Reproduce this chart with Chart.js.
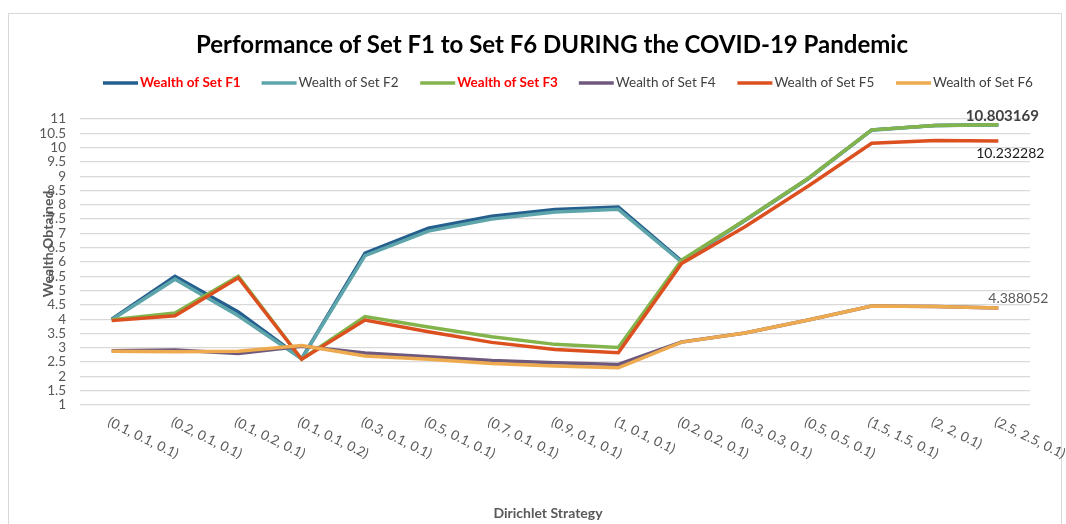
<!DOCTYPE html>
<html>
<head>
<meta charset="utf-8">
<script src="https://cdn.jsdelivr.net/npm/chart.js@4.4.0/dist/chart.umd.min.js"></script>
<style>
  html, body { margin: 0; padding: 0; background: #fff; }
  #wrap { position: relative; width: 1066px; height: 524px; }
</style>
</head>
<body>
<div id="wrap"><canvas id="wealthChart"></canvas></div>
<script>
// Dirichlet strategies (x categories)
const strategies = [
    '(0.1, 0.1, 0.1)', '(0.2, 0.1, 0.1)', '(0.1, 0.2, 0.1)', '(0.1, 0.1, 0.2)',
    '(0.3, 0.1, 0.1)', '(0.5, 0.1, 0.1)', '(0.7, 0.1, 0.1)', '(0.9, 0.1, 0.1)',
    '(1, 0.1, 0.1)', '(0.2, 0.2, 0.1)', '(0.3, 0.3, 0.1)', '(0.5, 0.5, 0.1)',
    '(1.5, 1.5, 0.1)', '(2, 2, 0.1)', '(2.5, 2.5, 0.1)'
];

// Wealth per set
const wealthF1 = [4.0, 5.5, 4.25, 2.62, 6.31, 7.18, 7.6, 7.84, 7.92, 6.03, 7.46, 8.92, 10.62, 10.77, 10.80];
const wealthF2 = [3.98, 5.4, 4.12, 2.62, 6.22, 7.08, 7.5, 7.75, 7.84, 6.0, 7.45, 8.91, 10.61, 10.77, 10.79];
const wealthF3 = [3.98, 4.22, 5.5, 2.6, 4.09, 3.73, 3.39, 3.12, 3.01, 6.07, 7.47, 8.93, 10.62, 10.77, 10.803169];
const wealthF4 = [2.9, 2.92, 2.8, 3.05, 2.82, 2.69, 2.56, 2.48, 2.42, 3.2, 3.52, 3.97, 4.46, 4.44, 4.39];
const wealthF5 = [3.95, 4.12, 5.45, 2.6, 3.97, 3.56, 3.19, 2.94, 2.83, 5.95, 7.23, 8.66, 10.15, 10.25, 10.232282];
const wealthF6 = [2.88, 2.86, 2.88, 3.08, 2.71, 2.6, 2.45, 2.36, 2.3, 3.2, 3.52, 3.97, 4.46, 4.44, 4.388052];

const seriesNames = ['Wealth of Set F1', 'Wealth of Set F2', 'Wealth of Set F3',
                     'Wealth of Set F4', 'Wealth of Set F5', 'Wealth of Set F6'];
const seriesColors = ['#245f8e', '#5ea5ab', '#83b44c', '#6e587c', '#dc5020', '#eeaa4e'];
const highlighted = [true, false, true, false, false, false]; // red bold legend entries

const FONT = 'Lato, "Liberation Sans", sans-serif';

// Excel style legend: equal slots, some labels bold red
const legendPlugin = {
    id: 'excelLegend',
    afterDraw(chart) {
        const ctx = chart.ctx;
        ctx.save();
        ctx.textBaseline = 'middle';
        ctx.textAlign = 'left';
        const y = 83;
        seriesNames.forEach((name, i) => {
            const x0 = 103 + i * 158.6;
            ctx.strokeStyle = seriesColors[i];
            ctx.lineWidth = 3.5;
            ctx.beginPath();
            ctx.moveTo(x0, y);
            ctx.lineTo(x0 + 35, y);
            ctx.stroke();
            ctx.font = (highlighted[i] ? 'bold ' : '') + '13.5px ' + FONT;
            ctx.fillStyle = highlighted[i] ? '#ff0000' : '#404040';
            ctx.fillText(name, x0 + 37, y);
        });
        ctx.restore();
    }
};

// title, frame, axis titles, slanted category labels, end-point labels
const decorPlugin = {
    id: 'decor',
    beforeDraw(chart) {
        const ctx = chart.ctx;
        ctx.save();
        ctx.fillStyle = '#fff';
        ctx.fillRect(0, 0, chart.width, chart.height);
        ctx.strokeStyle = '#d9d9d9';
        ctx.lineWidth = 1;
        ctx.strokeRect(8.5, 13.5, 1053, 530);
        ctx.restore();
    },
    afterDraw(chart) {
        const ctx = chart.ctx;
        const xs = chart.scales.x;
        ctx.save();

        ctx.fillStyle = '#000';
        ctx.font = 'bold 24px ' + FONT;
        ctx.textAlign = 'center';
        ctx.textBaseline = 'middle';
        ctx.fillText('Performance of Set F1 to Set F6 DURING the COVID-19 Pandemic', 552, 45);

        ctx.fillStyle = '#595959';
        ctx.font = 'bold 14px ' + FONT;
        ctx.fillText('Dirichlet Strategy', 548, 513);
        ctx.save();
        ctx.translate(48, 244);
        ctx.rotate(-Math.PI / 2);
        ctx.fillText('Wealth Obtained', 0, 0);
        ctx.restore();

        ctx.font = '13.5px ' + FONT;
        ctx.fillStyle = '#595959';
        ctx.textAlign = 'left';
        ctx.textBaseline = 'top';
        strategies.forEach((lab, i) => {
            const x = xs.getPixelForTick(i);
            ctx.save();
            ctx.translate(x, 415);
            ctx.rotate(26 * Math.PI / 180);
            ctx.fillText(lab, 0, 0);
            ctx.restore();
        });

        const last = strategies.length - 1;
        const labelSpecs = [
            { ds: 2, dx: 4, dy: -8, font: 'bold 15px ', color: '#404040' },
            { ds: 4, dx: 12, dy: 13, font: '14px ', color: '#1a1a1a' },
            { ds: 5, dx: 20, dy: -10, font: '14px ', color: '#595959' }
        ];
        ctx.textAlign = 'center';
        ctx.textBaseline = 'middle';
        labelSpecs.forEach(s => {
            const pt = chart.getDatasetMeta(s.ds).data[last];
            const v = chart.data.datasets[s.ds].data[last];
            ctx.font = s.font + FONT;
            ctx.fillStyle = s.color;
            ctx.fillText(v.toFixed(6), pt.x + s.dx, pt.y + s.dy);
        });
        ctx.restore();
    }
};

const allSeries = [wealthF1, wealthF2, wealthF3, wealthF4, wealthF5, wealthF6];

new Chart(document.getElementById('wealthChart'), {
    type: 'line',
    data: {
        labels: strategies,
        datasets: allSeries.map((vals, i) => ({
            label: seriesNames[i],
            data: vals,
            borderColor: seriesColors[i],
            backgroundColor: seriesColors[i],
            borderWidth: 3.5,
            pointRadius: 0,
            tension: 0,
            order: 6 - i   // later sets drawn on top, like Excel
        }))
    },
    options: {
        responsive: true,
        maintainAspectRatio: false,
        animation: false,
        layout: { padding: { top: 119, right: 36, left: 0, bottom: 0 } },
        plugins: {
            legend: { display: false },
            title: { display: false },
            tooltip: { enabled: false }
        },
        scales: {
            x: {
                offset: true,
                grid: { display: false },
                border: { display: false },
                ticks: { display: false },
                afterFit(scale) { scale.height = 119; }
            },
            y: {
                min: 1,
                max: 11,
                grid: { color: '#d9d9d9', lineWidth: 1.3, drawTicks: false },
                border: { display: false },
                ticks: {
                    stepSize: 0.5,
                    autoSkip: false,
                    padding: 14,
                    color: '#595959',
                    font: { family: FONT, size: 13.5 },
                    callback: v => String(Math.round(v * 10) / 10)
                },
                afterFit(scale) { scale.width = 80; }
            }
        }
    },
    plugins: [decorPlugin, legendPlugin]
});
</script>
</body>
</html>
